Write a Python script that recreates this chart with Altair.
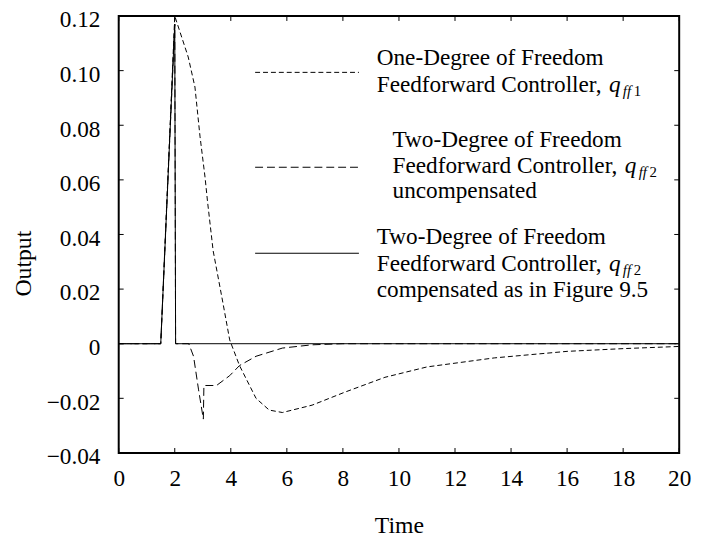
import altair as alt
import pandas as pd

# ---- data ----
t_one = [0, 1.5, 2.0, 2.48, 2.72, 2.90, 3.08, 3.17, 3.37, 3.7, 3.96, 4.31, 4.9, 5.37, 5.84, 6.9, 8.08, 9.5, 11.0, 13.4, 16.0, 18.0, 20.0]
v_one = [0, 0, 0.12, 0.105, 0.094, 0.076, 0.061, 0.052, 0.034, 0.016, 0.0014, -0.008, -0.020, -0.0243, -0.0252, -0.0225, -0.0177, -0.0123, -0.0085, -0.0052, -0.0028, -0.0018, -0.001]

t_unc = [0, 1.5, 2.0, 2.03, 2.5, 2.67, 2.85, 3.02, 3.04, 3.49, 3.96, 4.31, 4.9, 5.84, 6.9, 8.0, 20.0]
v_unc = [0, 0, 0.117, 0, 0, -0.0046, -0.0169, -0.0276, -0.0153, -0.0153, -0.0117, -0.008, -0.0046, -0.0016, -0.0004, 0, 0]

t_comp = [0, 1.5, 2.0, 2.03, 20.0]
v_comp = [0, 0, 0.117, 0, 0]

x_ticks = [0, 2, 4, 6, 8, 10, 12, 14, 16, 18, 20]
y_ticks = [-0.04, -0.02, 0, 0.02, 0.04, 0.06, 0.08, 0.10, 0.12]

W, H = 567, 442
FONT = "Liberation Serif"
LFS = 23.5  # tick label size
TFS = 24    # axis title size
GFS = 23.5  # legend text size

xs = alt.Scale(domain=[0, 20], nice=False, zero=False)
ys = alt.Scale(domain=[-0.04, 0.12], nice=False, zero=False)

X = alt.X("t:Q", scale=xs, title="Time",
          axis=alt.Axis(values=x_ticks, ticks=False, domain=False, grid=False,
                        labelFont=FONT, labelFontSize=LFS, labelColor="black",
                        labelPadding=14, labelFlush=False,
                        titleFont=FONT, titleFontSize=TFS, titleFontWeight="normal",
                        titleColor="black", titlePadding=24))
Y = alt.Y("v:Q", scale=ys, title="Output",
          axis=alt.Axis(values=y_ticks, ticks=False, domain=False, grid=False,
                        labelFont=FONT, labelFontSize=LFS, labelColor="black",
                        labelPadding=19, labelFlush=False, labelOffset=4,
                        labelExpr="datum.value == 0 ? '0' : format(datum.value, '.2f')",
                        titleFont=FONT, titleFontSize=TFS, titleFontWeight="normal",
                        titleColor="black", titleX=-96, titleY=250,
                        titleBaseline="middle", titleAlign="center", titleAngle=270))


def series(t, v):
    return pd.DataFrame({"t": t, "v": v, "i": range(len(t))})


def line(df, dash):
    kw = dict(color="black", strokeWidth=1, clip=True)
    if dash:
        kw["strokeDash"] = dash
    return alt.Chart(df).mark_line(**kw).encode(x=X, y=Y, order="i:Q")


xt = pd.DataFrame({"t": x_ticks})
yt = pd.DataFrame({"v": y_ticks})
TL = 5
tick_b = alt.Chart(xt).mark_rule(color="black", strokeWidth=1).encode(
    x=X, y=alt.value(H), y2=alt.value(H - TL))
tick_t = alt.Chart(xt).mark_rule(color="black", strokeWidth=1).encode(
    x=X, y=alt.value(0), y2=alt.value(TL))
tick_l = alt.Chart(yt).mark_rule(color="black", strokeWidth=1).encode(
    y=Y, x=alt.value(0), x2=alt.value(TL))
tick_r = alt.Chart(yt).mark_rule(color="black", strokeWidth=1).encode(
    y=Y, x=alt.value(W), x2=alt.value(W - TL))

# legend
one_d = [5, 3]
unc_d = [8, 4]


def lrule(y, dash):
    kw = dict(color="black", strokeWidth=1)
    if dash:
        kw["strokeDash"] = dash
    return alt.Chart(pd.DataFrame({"a": [0]})).mark_rule(**kw).encode(
        x=alt.value(138), x2=alt.value(243), y=alt.value(y))


def ltext(x, y, s, size=GFS, style="normal"):
    return alt.Chart(pd.DataFrame({"a": [0]})).mark_text(
        font=FONT, fontSize=size, fontStyle=style, align="left", baseline="alphabetic",
        color="black").encode(x=alt.value(x), y=alt.value(y), text=alt.value(s))


QOFF = 235


def qsub(x0, yb, digit):
    return [
        ltext(x0 + QOFF, yb, "q", style="italic"),
        ltext(x0 + QOFF + 14, yb + 4, "ff", size=15, style="italic"),
        ltext(x0 + QOFF + 25, yb + 4, digit, size=15),
    ]


X1, X2 = 261, 277
leg = [
    lrule(57, one_d),
    ltext(X1, 50, "One-Degree of Freedom"),
    ltext(X1, 77, "Feedforward Controller,"),
    *qsub(X1, 77, "1"),
    lrule(153, unc_d),
    ltext(X2, 132, "Two-Degree of Freedom"),
    ltext(X2, 159, "Feedforward Controller,"),
    *qsub(X2, 159, "2"),
    ltext(X2, 184, "uncompensated"),
    lrule(240, None),
    ltext(X1, 231, "Two-Degree of Freedom"),
    ltext(X1, 258, "Feedforward Controller,"),
    *qsub(X1, 258, "2"),
    ltext(X1, 284, "compensated as in Figure 9.5"),
]

chart = alt.layer(
    line(series(t_comp, v_comp), None),
    line(series(t_unc, v_unc), unc_d),
    line(series(t_one, v_one), one_d),
    tick_b, tick_t, tick_l, tick_r,
    *leg,
).properties(
    width=W, height=H,
    autosize=alt.AutoSizeParams(type="none"),
    padding={"left": 112, "top": 5, "right": 17, "bottom": 89},
).configure_view(stroke="black", strokeWidth=2)

chart.save("out.html", embed_options={"renderer": "svg", "actions": False})
